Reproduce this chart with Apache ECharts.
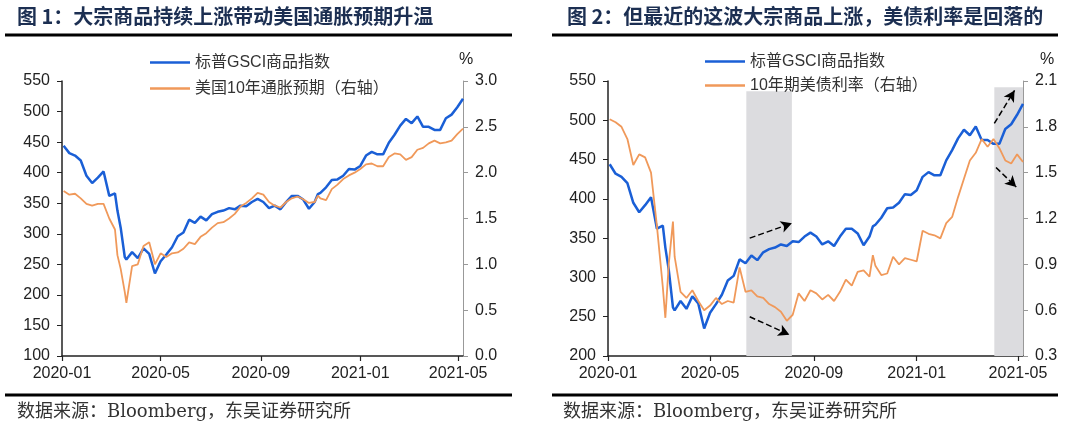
<!DOCTYPE html>
<html>
<head>
<meta charset="utf-8">
<script src="https://cdn.jsdelivr.net/npm/echarts@6/dist/echarts.min.js"></script>
<style>
html,body{margin:0;padding:0;background:#fff;}
#c{width:1080px;height:433px;}
</style>
</head>
<body>
<div id="c"></div>
<script>
// ---- data ----
const dates = [
'2020-01-03','2020-01-10','2020-01-17','2020-01-24','2020-01-31','2020-02-07','2020-02-14','2020-02-21','2020-02-28',
'2020-03-06','2020-03-09','2020-03-13','2020-03-18','2020-03-20','2020-03-27','2020-04-03','2020-04-10','2020-04-17','2020-04-24',
'2020-05-01','2020-05-08','2020-05-15','2020-05-22','2020-05-29','2020-06-05','2020-06-12','2020-06-19','2020-06-26',
'2020-07-03','2020-07-10','2020-07-17','2020-07-24','2020-07-31','2020-08-07','2020-08-14','2020-08-21','2020-08-28',
'2020-09-04','2020-09-11','2020-09-18','2020-09-25','2020-10-02','2020-10-09','2020-10-16','2020-10-23','2020-10-30',
'2020-11-06','2020-11-10','2020-11-13','2020-11-20','2020-11-27','2020-12-04','2020-12-11','2020-12-18','2020-12-25',
'2021-01-01','2021-01-08','2021-01-15','2021-01-22','2021-01-29','2021-02-05','2021-02-12','2021-02-19','2021-02-26',
'2021-03-05','2021-03-12','2021-03-19','2021-03-26','2021-04-02','2021-04-09','2021-04-16','2021-04-23','2021-04-30','2021-05-07'
];
const gsci = [
444,432,428,420,395,383,392,402,362,
366,338,310,262,258,270,260,276,267,235,
255,266,278,296,302,323,318,328,322,
332,336,338,342,340,346,345,352,357,
352,342,346,340,352,362,362,356,341,
352,365,367,376,388,389,395,406,405,
411,428,434,430,430,449,462,477,488,
481,492,475,475,470,470,489,495,507,521
];
const breakeven = [
1.80,1.76,1.77,1.72,1.66,1.64,1.66,1.66,1.50,
1.38,1.10,0.95,0.70,0.58,0.98,1.00,1.20,1.24,1.00,
1.12,1.08,1.12,1.13,1.17,1.24,1.22,1.30,1.34,
1.40,1.45,1.46,1.50,1.55,1.63,1.67,1.72,1.78,
1.76,1.68,1.64,1.62,1.68,1.72,1.74,1.71,1.67,
1.68,1.75,1.72,1.70,1.82,1.87,1.93,1.97,2.00,
2.04,2.09,2.10,2.07,2.07,2.17,2.21,2.20,2.14,
2.17,2.25,2.27,2.32,2.35,2.32,2.33,2.35,2.42,2.48
];
const ust10y = [
1.85,1.83,1.80,1.72,1.55,1.62,1.60,1.50,1.15,
0.75,0.55,0.90,1.18,0.95,0.72,0.68,0.73,0.66,0.60,
0.63,0.68,0.64,0.66,0.65,0.88,0.72,0.73,0.69,
0.68,0.64,0.62,0.59,0.53,0.57,0.71,0.66,0.73,
0.71,0.67,0.70,0.66,0.72,0.80,0.76,0.85,0.86,
0.82,0.96,0.89,0.83,0.84,0.95,0.90,0.94,0.93,
0.92,1.12,1.10,1.09,1.07,1.17,1.21,1.34,1.46,
1.58,1.63,1.72,1.67,1.72,1.66,1.58,1.56,1.62,1.57
];
const monthTicks = ['2020-01-01','2020-05-01','2020-09-01','2021-01-01','2021-05-01'];
const axisStart = '2020-01-01';
const axisEnd = '2021-05-07';
const names1 = ['标普GSCI商品指数','美国10年通胀预期（右轴）'];
const names2 = ['标普GSCI商品指数','10年期美债利率（右轴）'];
const bands = [['2020-06-13','2020-08-06',537],['2021-04-03','2021-05-07',542]];
const arrows = [
  [['2020-06-17',350],['2020-08-06',369]],
  [['2020-06-17',250],['2020-08-03',227]],
  [['2021-04-03',496],['2021-04-27',538]],
  [['2021-04-05',440],['2021-04-29',415]]
];
const title1 = '图 1：大宗商品持续上涨带动美国通胀预期升温';
const title2 = '图 2：但最近的这波大宗商品上涨，美债利率是回落的';
const source = '数据来源：Bloomberg，东吴证券研究所';

// ---- build ----
function ts(s){const p=s.split('-').map(Number);return new Date(p[0],p[1]-1,p[2]).getTime();}
const tickVals = monthTicks.map(ts);
const pair = arr => dates.map((d,i)=>[ts(d),arr[i]]);
const BLUE='#1a5fd6', ORANGE='#f0995a';
const LBL = {fontSize:16,color:'#222',fontFamily:'"Liberation Sans", Arial, sans-serif'};
function fmtDate(v){const d=new Date(v);return d.getFullYear()+'-'+String(d.getMonth()+1).padStart(2,'0');}
function xAx(g){return {type:'value',gridIndex:g,min:ts(axisStart),max:ts(axisEnd),scale:true,
  axisLine:{show:true,onZero:false,lineStyle:{color:'#222',width:1.5}},
  axisTick:{show:true,customValues:tickVals,length:5,lineStyle:{color:'#222',width:1.2}},
  axisLabel:Object.assign({customValues:tickVals,margin:10,hideOverlap:false,showMinLabel:true,showMaxLabel:true,
    formatter:fmtDate},LBL),
  splitLine:{show:false}};}
function yAx(g,min,max,iv,pos,dec){return {type:'value',gridIndex:g,min:min,max:max,interval:iv,position:pos,
  axisLine:{show:true,onZero:false,lineStyle:{color:pos==='left'?'#222':'#999',width:pos==='left'?1.5:1}},
  axisTick:{show:true,length:5,lineStyle:{color:pos==='left'?'#222':'#999'}},
  axisLabel:Object.assign({margin:12,formatter:v=>dec?v.toFixed(1):String(Math.round(v))},LBL),
  splitLine:{show:false}};}

const chart = echarts.init(document.getElementById('c'));
const txtFont = '"Liberation Sans","Noto Sans CJK SC",sans-serif';
function legendData(names){return [{name:names[0],itemStyle:{color:BLUE}},{name:names[1],itemStyle:{color:ORANGE}}];}
chart.setOption({
  animation:false,
  backgroundColor:'#fff',
  grid:[{left:62,top:81,width:401,height:275},{left:608,top:81,width:415,height:275}],
  xAxis:[xAx(0),xAx(1)],
  yAxis:[yAx(0,100,550,50,'left',false),yAx(0,0,3,0.5,'right',true),
         yAx(1,200,550,50,'left',false),yAx(1,0.3,2.1,0.3,'right',true)],
  legend:[
    {data:legendData(names1),orient:'vertical',left:145,top:49,icon:'rect',itemWidth:40,itemHeight:2.5,itemGap:9,
     textStyle:{fontSize:16,color:'#333',fontFamily:txtFont,lineHeight:17}},
    {data:legendData(names2),orient:'vertical',left:700,top:48,icon:'rect',itemWidth:40,itemHeight:2.5,itemGap:7,
     textStyle:{fontSize:16,color:'#333',fontFamily:txtFont,lineHeight:17}}
  ],
  series:[
    {name:names1[0],type:'line',xAxisIndex:0,yAxisIndex:0,data:pair(gsci),showSymbol:false,symbol:'none',color:BLUE,
     lineStyle:{color:BLUE,width:2.5},emphasis:{disabled:true}},
    {name:names1[1],type:'line',xAxisIndex:0,yAxisIndex:1,data:pair(breakeven),showSymbol:false,symbol:'none',color:ORANGE,
     lineStyle:{color:ORANGE,width:1.8},emphasis:{disabled:true}},
    {name:names2[0],type:'line',xAxisIndex:1,yAxisIndex:2,data:pair(gsci),showSymbol:false,symbol:'none',color:BLUE,
     lineStyle:{color:BLUE,width:2.5},emphasis:{disabled:true},
     markArea:{silent:true,itemStyle:{color:'#dcdcdf'},
       data:bands.map(b=>[{xAxis:ts(b[0]),yAxis:200},{xAxis:ts(b[1]),yAxis:b[2]}])},
     markLine:{silent:true,symbol:['none','arrow'],symbolSize:[9,11],label:{show:false},
       lineStyle:{color:'#000',type:'dashed',width:1.5},emphasis:{disabled:true},
       data:arrows.map(a=>[{coord:[ts(a[0][0]),a[0][1]]},{coord:[ts(a[1][0]),a[1][1]]}])}},
    {name:names2[1],type:'line',xAxisIndex:1,yAxisIndex:3,data:pair(ust10y),showSymbol:false,symbol:'none',color:ORANGE,
     lineStyle:{color:ORANGE,width:1.8},emphasis:{disabled:true}}
  ],
  graphic:[
    {type:'text',left:17,top:6,style:{text:title1,font:'bold 20px "Noto Sans CJK SC",sans-serif',fill:'#1c2f52'}},
    {type:'text',left:567,top:6,style:{text:title2,font:'bold 20px "Noto Sans CJK SC",sans-serif',fill:'#1c2f52'}},
    {type:'line',shape:{x1:5,y1:35,x2:512,y2:35},style:{stroke:'#000',lineWidth:3}},
    {type:'line',shape:{x1:552,y1:35,x2:1058,y2:35},style:{stroke:'#000',lineWidth:3}},
    {type:'line',shape:{x1:5,y1:395,x2:512,y2:395},style:{stroke:'#000',lineWidth:3}},
    {type:'line',shape:{x1:552,y1:395,x2:1058,y2:395},style:{stroke:'#000',lineWidth:3}},
    {type:'text',left:17,top:403,style:{text:source,font:'18px "DejaVu Serif","Noto Sans CJK SC",serif',fill:'#333'}},
    {type:'text',left:563,top:403,style:{text:source,font:'18px "DejaVu Serif","Noto Sans CJK SC",serif',fill:'#333'}},
    {type:'text',left:459,top:52,style:{text:'%',font:'16px "Liberation Sans",Arial,sans-serif',fill:'#222'}},
    {type:'text',left:1040,top:52,style:{text:'%',font:'16px "Liberation Sans",Arial,sans-serif',fill:'#222'}}
  ]
});
</script>
</body>
</html>
